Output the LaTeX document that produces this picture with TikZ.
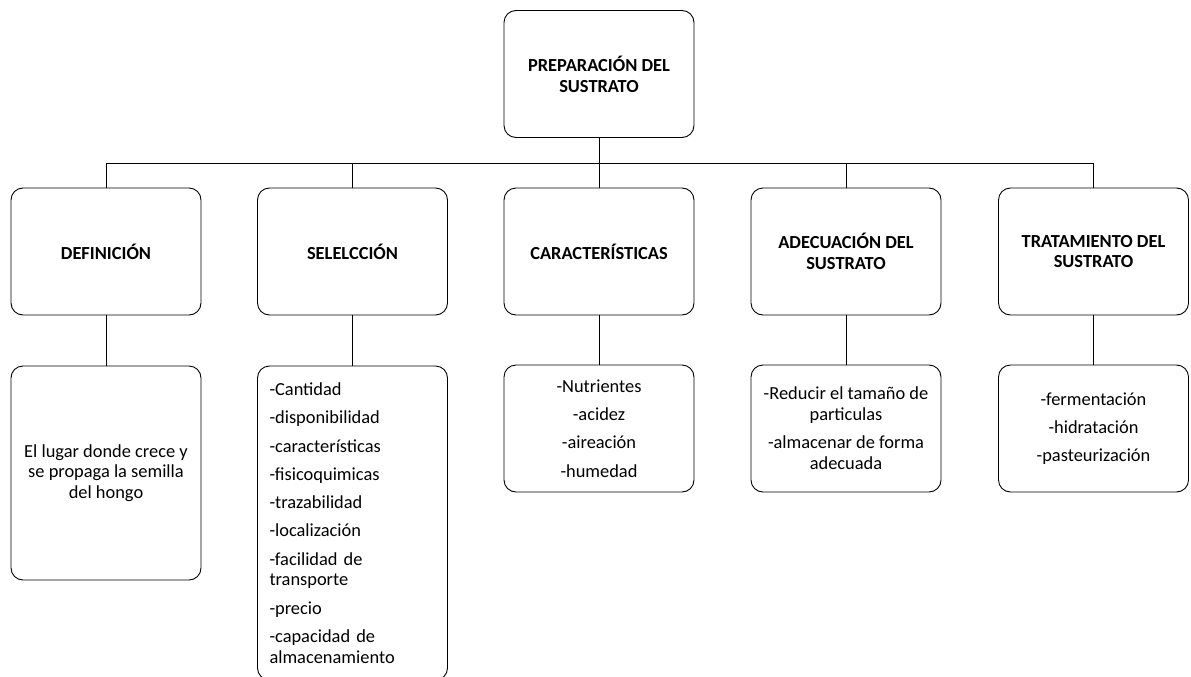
\documentclass[tikz,border=0pt]{standalone}
\usepackage{fontspec}
\setmainfont{Carlito}
\begin{document}
\begin{tikzpicture}[x=1pt,y=-1pt,
  box/.style={draw, rounded corners=12pt, line width=0.9pt, minimum width=190pt,
    minimum height=127pt, inner sep=0pt, align=center,
    font=\fontsize{18.4}{20.7}\selectfont},
  head/.style={box, font=\fontsize{18.4}{20.7}\selectfont\bfseries},
  link/.style={line width=0.9pt}]
\useasboundingbox (0,0) rectangle (1191,677);
\clip (0,0) rectangle (1191,677);
\coordinate (bar) at (0,163);

% root
\node[head] (root) at (599,74) {PREPARACIÓN DEL\\SUSTRATO};

% second level headings
\node[head] (h1) at (106,251.5) {DEFINICIÓN};
\node[head] (h2) at (352.5,251.5) {SELELCCIÓN};
\node[head] (h3) at (599,251.5) {CARACTERÍSTICAS};
\node[head] (h4) at (846,251.5) {ADECUACIÓN DEL\\SUSTRATO};
\node[head] (h5) at (1093.5,251.5) {TRATAMIENTO DEL\\SUSTRATO};

% detail boxes
\node[box, minimum height=214pt] (b1) at (106,473)
  {El lugar donde crece y\\se propaga la semilla\\del hongo};
\node[box, minimum height=314pt, align=left, text width=166pt, inner xsep=12pt] (b2) at (352.5,523)
  {-Cantidad\\[7.6pt]-disponibilidad\\[7.6pt]-características\\[7.6pt]-fisicoquimicas\\[7.6pt]-trazabilidad\\[7.6pt]-localización\\[7.6pt]-facilidad de\\transporte\\[7.6pt]-precio\\[7.6pt]-capacidad de\\almacenamiento};
\node[box] (b3) at (599,428.5)
  {-Nutrientes\\[7.6pt]-acidez\\[7.6pt]-aireación\\[7.6pt]-humedad};
\node[box] (b4) at (846,428.5)
  {-Reducir el tamaño de\\particulas\\[7.6pt]-almacenar de forma\\adecuada};
\node[box] (b5) at (1093.5,428.5)
  {-fermentación\\[7.6pt]-hidratación\\[7.6pt]-pasteurización};

% tree connectors
\draw[link] (root.south) -- (root.south |- bar);
\draw[link] (h1.north) |- (h5.north |- bar) -- (h5.north);
\draw[link] (h2.north) -- (h2.north |- bar);
\draw[link] (h3.north) -- (h3.north |- bar);
\draw[link] (h4.north) -- (h4.north |- bar);
\foreach \i in {1,...,5} {
  \draw[link] (h\i.south) -- (b\i.north);
}
\end{tikzpicture}
\end{document}
